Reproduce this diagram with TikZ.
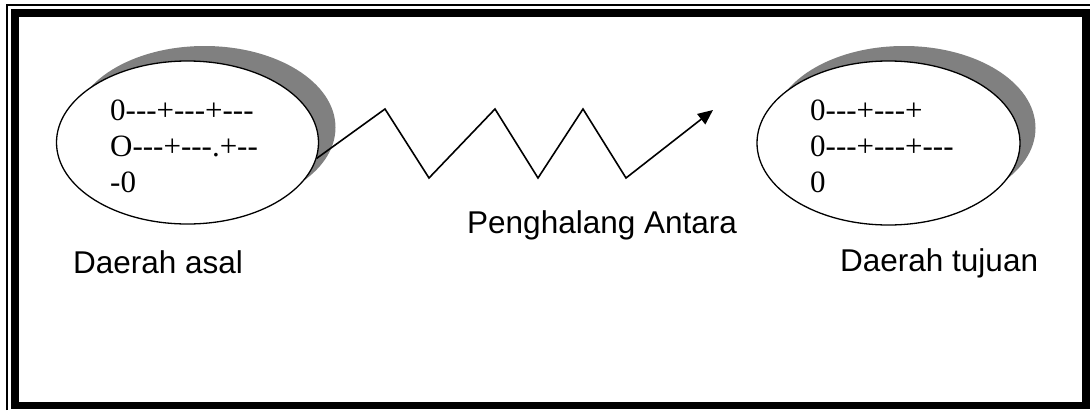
\documentclass[tikz,border=0pt]{standalone}
\usepackage{fontspec}
\setmainfont{Liberation Serif}
\newfontfamily\dotsfont{Liberation Serif}[Ligatures=TeXOff]
\newfontfamily\labelfont{Liberation Sans}
\usepackage{tikz}
\usetikzlibrary{
  calc,
  positioning,
  arrows.meta,
  shapes.geometric
}

\begin{document}
\begin{tikzpicture}[x=1pt,y=-1pt,>=Latex]
  \tikzset{
    region/.style={
      draw, ellipse, fill=white, line width=1.3pt,
      minimum width=262pt, minimum height=163pt, inner sep=0pt
    },
    shade/.style={fill=gray},
    particles/.style={
      anchor=base west, inner sep=0pt,
      font=\dotsfont\fontsize{31}{36}\selectfont
    },
    caption/.style={
      anchor=base west, inner sep=0pt,
      font=\labelfont\fontsize{31.5}{37}\selectfont
    },
    %    every path/.style={thick},
  }
  \useasboundingbox (0,0) rectangle (1090,410);

  % frame
  \draw[line width=1.2pt] (7,410) -- (7,5) -- (1090,5);
  \draw[line width=7.5pt] (15,13) rectangle (1086,405.5);

  % shadows behind the two regions
  \fill[shade] (204.5,127.5) ellipse [x radius=131, y radius=81.5];
  \fill[shade] (904,128) ellipse [x radius=131.5, y radius=82];

  \node[region] (asal) at (187.5,142.5) {};
  \node[region, minimum width=263pt, minimum height=164pt] (tujuan) at (888.5,143) {};

  \foreach \row [count=\i] in {0---+---+---, O---+---.+--, -0}
    \node[particles] (asal\i) at (110,{84+36*\i}) {\row};
  \foreach \row [count=\i] in {0---+---+, 0---+---+---, 0}
    \node[particles] (tujuan\i) at (810,{84+36*\i}) {\row};

  % barrier
  \coordinate (tip) at (713,110);
  \draw[line width=1.6pt, line join=miter, -{Triangle[length=15pt,width=13pt]}]
    (asal.-7) -- (385,109) -- (429,178) -- (495,109) -- (538,178)
    -- (583,109) -- (626,178) -- (tip);

  \node[caption] (asallabel) at (73,273) {Daerah asal};
  \node[caption] (barrier) at (467,233) {Penghalang Antara};
  \node[caption] (tujuanlabel) at (840,271) {Daerah tujuan};
\end{tikzpicture}
\end{document}
